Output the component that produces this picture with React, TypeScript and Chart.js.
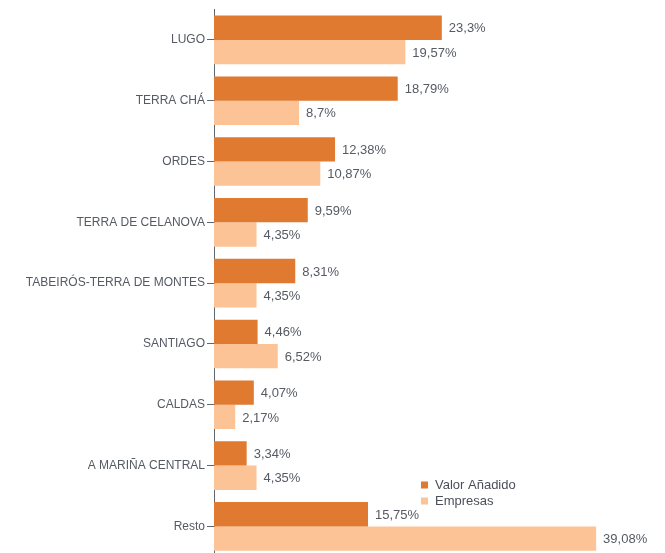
import React, { useEffect, useRef } from "react";
import { Chart, registerables } from "chart.js";

Chart.register(...registerables);

const categories = [
  "LUGO",
  "TERRA CHÁ",
  "ORDES",
  "TERRA DE CELANOVA",
  "TABEIRÓS-TERRA DE MONTES",
  "SANTIAGO",
  "CALDAS",
  "A MARIÑA CENTRAL",
  "Resto",
];
const valorAnadido = [23.3, 18.79, 12.38, 9.59, 8.31, 4.46, 4.07, 3.34, 15.75];
const empresas = [19.57, 8.7, 10.87, 4.35, 4.35, 6.52, 2.17, 4.35, 39.08];
const seriesNames = ["Valor Añadido", "Empresas"];
const seriesColors = ["#DF7A30", "#FCC396"];

const fmt = (v: number) => String(v).replace(".", ",") + "%";

const valueLabels = {
  id: "valueLabels",
  afterDatasetsDraw(chart: any) {
    const ctx = chart.ctx;
    ctx.save();
    ctx.font = "13px 'Liberation Sans', Arial, sans-serif";
    ctx.fillStyle = "#555a63";
    ctx.textAlign = "left";
    ctx.textBaseline = "middle";
    chart.data.datasets.forEach((ds: any, di: number) => {
      const meta = chart.getDatasetMeta(di);
      meta.data.forEach((bar: any, i: number) => {
        ctx.fillText(fmt(ds.data[i]), bar.x + 7, bar.y + 1);
      });
    });
    ctx.restore();
  },
};

const innerLegend = {
  id: "innerLegend",
  afterDraw(chart: any) {
    const ctx = chart.ctx;
    const x = 421;
    const y0 = 485;
    ctx.save();
    ctx.font = "13px 'Liberation Sans', Arial, sans-serif";
    ctx.textAlign = "left";
    ctx.textBaseline = "middle";
    seriesNames.forEach((name, i) => {
      const y = y0 + i * 16;
      ctx.fillStyle = seriesColors[i];
      ctx.fillRect(x, y - 3.5, 7, 7);
      ctx.fillStyle = "#4a4f58";
      ctx.fillText(name, x + 14, y);
    });
    ctx.restore();
  },
};

export default function App() {
  const ref = useRef<HTMLCanvasElement | null>(null);
  useEffect(() => {
    if (!ref.current) return;
    const chart = new Chart(ref.current, {
      type: "bar",
      data: {
        labels: categories,
        datasets: [
          {
            label: seriesNames[0],
            data: valorAnadido,
            backgroundColor: seriesColors[0],
            categoryPercentage: 0.8,
            barPercentage: 1.0,
          },
          {
            label: seriesNames[1],
            data: empresas,
            backgroundColor: seriesColors[1],
            categoryPercentage: 0.8,
            barPercentage: 1.0,
          },
        ],
      },
      options: {
        indexAxis: "y",
        animation: false,
        responsive: false,
        maintainAspectRatio: false,
        layout: { padding: { left: 0, right: 11, top: 9.5, bottom: 8.5 } },
        plugins: {
          legend: { display: false },
          tooltip: { enabled: false },
        },
        scales: {
          x: {
            display: false,
            min: 0,
            max: 45,
          },
          y: {
            afterFit: (s: any) => {
              s.width = 214;
            },
            border: { display: true, color: "#5f6670", width: 1 },
            grid: {
              offset: false,
              drawOnChartArea: false,
              drawTicks: true,
              tickLength: 7,
              color: "#5f6670",
            },
            ticks: {
              color: "#555a63",
              padding: 2,
              font: { family: "'Liberation Sans', Arial, sans-serif", size: 12 },
            },
          },
        },
      },
      plugins: [valueLabels, innerLegend],
    } as any);
    return () => chart.destroy();
  }, []);
  return (
    <div
      style={{
        position: "fixed",
        left: 0,
        top: 0,
        width: 665,
        height: 553,
        overflow: "hidden",
        background: "#fff",
      }}
    >
      <canvas ref={ref} width={665} height={566} style={{ display: "block" }} />
    </div>
  );
}
